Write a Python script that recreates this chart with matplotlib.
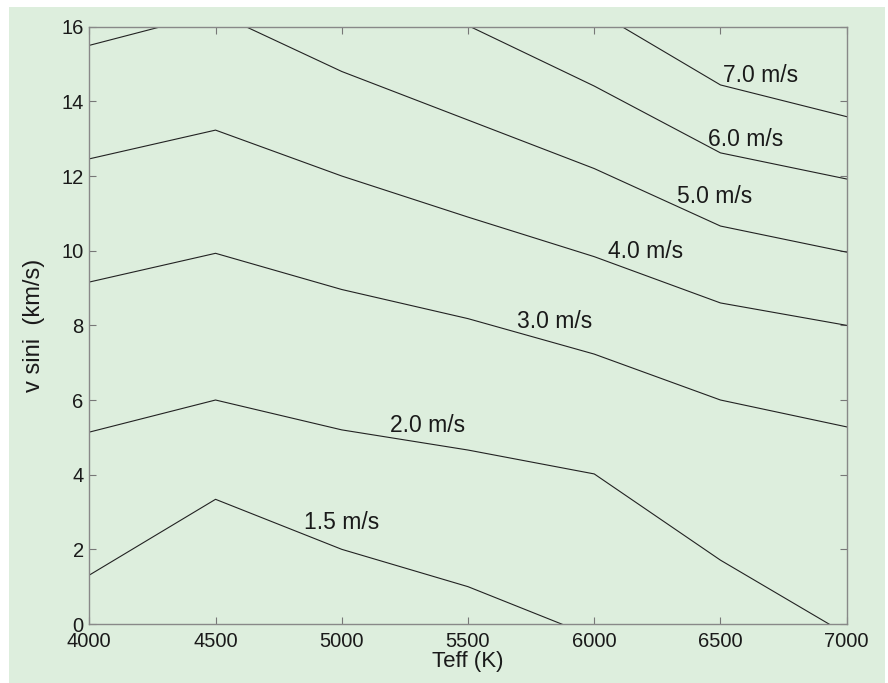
import matplotlib
matplotlib.use('Agg')
import matplotlib.pyplot as plt
import numpy as np
from matplotlib.patches import Rectangle

plt.rcParams['font.family'] = ['Liberation Sans', 'DejaVu Sans']

# contour levels (v sini in km/s at each Teff)
teff = [4000, 4500, 5000, 5500, 6000, 6500, 7000]
lvl_15 = [1.31, 3.34, 2.0, 1.0, -0.35, np.nan, np.nan]
lvl_20 = [5.14, 6.0, 5.2, 4.66, 4.02, 1.71, -0.28]
lvl_30 = [9.16, 9.93, 8.96, 8.18, 7.23, 6.0, 5.28]
lvl_40 = [12.46, 13.23, 12.0, 10.9, 9.84, 8.6, 8.0]
lvl_50 = [15.5, 16.38, 14.8, 13.5, 12.2, 10.66, 9.96]
lvl_60 = [np.nan, np.nan, np.nan, 16.03, 14.41, 12.62, 11.92]
lvl_70 = [np.nan, np.nan, np.nan, np.nan, 16.44, 14.44, 13.59]
levels = [lvl_15, lvl_20, lvl_30, lvl_40, lvl_50, lvl_60, lvl_70]

labels = ['1.5 m/s', '2.0 m/s', '3.0 m/s', '4.0 m/s', '5.0 m/s', '6.0 m/s', '7.0 m/s']
# where the inline labels sit (data coords)
lab_x = [5000, 5340, 5844, 6204, 6478, 6600, 6660]
lab_y = [2.72, 5.33, 8.09, 9.97, 11.46, 12.99, 14.70]

bg = '#ddeedd'
fig = plt.figure(figsize=(8.88, 6.83), dpi=100, facecolor='white')
fig.patches.append(Rectangle((9/888, 0), 876/888, 676/683, transform=fig.transFigure,
                             facecolor=bg, edgecolor='none', zorder=-10))
ax = fig.add_axes([89.3/888, 59/683, 757.4/888, 597.3/683])
ax.set_facecolor(bg)

for y in levels:
    ax.plot(teff, y, color='#222222', lw=0.8)

for x, y, t in zip(lab_x, lab_y, labels):
    ax.text(x, y, t, fontsize=16.5, ha='center', va='center', color='#1a1a1a')

ax.set_xlim(4000, 7000)
ax.set_ylim(0, 16)
ax.set_xticks(teff)
ax.set_yticks(np.arange(0, 17, 2))
ax.tick_params(direction='in', top=True, right=True, length=5, width=0.8,
               colors='#777777', labelcolor='#1a1a1a', labelsize=14.5)
ax.tick_params(axis='x', pad=6)
ax.tick_params(axis='y', pad=4)
for s in ax.spines.values():
    s.set_color('#888888')
    s.set_linewidth(1.0)

ax.set_xlabel('Teff (K)', fontsize=16, color='#1a1a1a', labelpad=0)
ax.set_ylabel('v sini  (km/s)', fontsize=17, color='#1a1a1a', labelpad=12)

fig.savefig('out.png', dpi=100, facecolor=fig.get_facecolor())
